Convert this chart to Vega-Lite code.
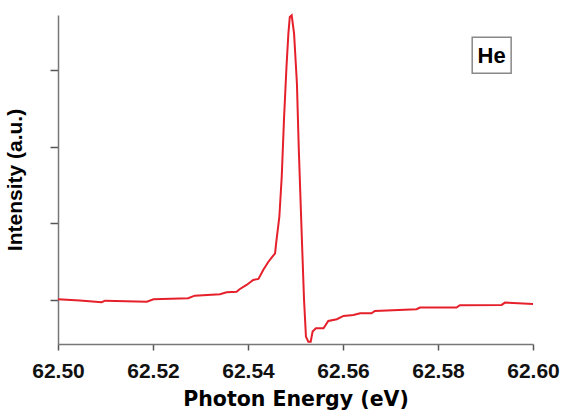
{
  "$schema": "https://vega.github.io/schema/vega-lite/v6.json",
  "autosize": "none",
  "width": 475,
  "height": 329,
  "padding": {"left": 58, "top": 15, "right": 38, "bottom": 70},
  "background": "white",
  "config": {"view": {"stroke": null}, "font": "Liberation Sans"},
  "datasets": {
    "spec": [
      {"E": 62.5000, "I": 0.009},
      {"E": 62.5046, "I": -0.007},
      {"E": 62.5092, "I": -0.030},
      {"E": 62.5099, "I": -0.009},
      {"E": 62.5187, "I": -0.022},
      {"E": 62.5201, "I": 0.009},
      {"E": 62.5274, "I": 0.022},
      {"E": 62.5288, "I": 0.056},
      {"E": 62.5341, "I": 0.074},
      {"E": 62.5355, "I": 0.100},
      {"E": 62.5376, "I": 0.108},
      {"E": 62.5383, "I": 0.143},
      {"E": 62.5397, "I": 0.196},
      {"E": 62.5411, "I": 0.261},
      {"E": 62.5422, "I": 0.274},
      {"E": 62.5432, "I": 0.391},
      {"E": 62.5443, "I": 0.499},
      {"E": 62.5451, "I": 0.561},
      {"E": 62.5457, "I": 0.609},
      {"E": 62.5460, "I": 0.782},
      {"E": 62.5466, "I": 1.086},
      {"E": 62.5471, "I": 1.608},
      {"E": 62.5476, "I": 2.390},
      {"E": 62.5481, "I": 3.042},
      {"E": 62.5485, "I": 3.477},
      {"E": 62.5488, "I": 3.694},
      {"E": 62.5492, "I": 3.716},
      {"E": 62.5497, "I": 3.477},
      {"E": 62.5503, "I": 2.825},
      {"E": 62.5507, "I": 1.956},
      {"E": 62.5513, "I": 0.870},
      {"E": 62.5518, "I": 0.000},
      {"E": 62.5522, "I": -0.478},
      {"E": 62.5527, "I": -0.544},
      {"E": 62.5532, "I": -0.544},
      {"E": 62.5536, "I": -0.413},
      {"E": 62.5543, "I": -0.369},
      {"E": 62.5559, "I": -0.369},
      {"E": 62.5569, "I": -0.274},
      {"E": 62.5587, "I": -0.252},
      {"E": 62.5601, "I": -0.209},
      {"E": 62.5622, "I": -0.196},
      {"E": 62.5636, "I": -0.173},
      {"E": 62.5660, "I": -0.173},
      {"E": 62.5667, "I": -0.143},
      {"E": 62.5755, "I": -0.121},
      {"E": 62.5762, "I": -0.100},
      {"E": 62.5839, "I": -0.100},
      {"E": 62.5846, "I": -0.069},
      {"E": 62.5934, "I": -0.065},
      {"E": 62.5941, "I": -0.035},
      {"E": 62.6000, "I": -0.052}
    ],
    "box": [
      {"x1": 62.5872, "x2": 62.5954, "y1": 2.96, "y2": 3.43, "xc": 62.5913, "yc": 3.185, "label": "He"}
    ]
  },
  "layer": [
    {
      "data": {"name": "spec"},
      "mark": {"type": "line", "color": "#e5202b", "strokeWidth": 2, "interpolate": "linear"},
      "encoding": {
        "x": {
          "field": "E", "type": "quantitative",
          "scale": {"domain": [62.5, 62.6], "nice": false, "zero": false},
          "axis": {
            "title": "Photon Energy (eV)",
            "values": [62.5, 62.52, 62.54, 62.56, 62.58, 62.6],
            "format": ".2f",
            "grid": false,
            "domainColor": "#777", "domainWidth": 1.5,
            "tickColor": "#555", "tickSize": 6, "tickWidth": 1.5,
            "labelFont": "Liberation Sans", "labelFontSize": 21, "labelFontWeight": "bold", "labelColor": "#111",
            "labelPadding": 10, "labelFlush": false,
            "titleFont": "DejaVu Sans", "titleFontSize": 20.5, "titleFontWeight": "bold", "titleColor": "#000",
            "titlePadding": 8
          }
        },
        "y": {
          "field": "I", "type": "quantitative",
          "scale": {"domain": [-0.575, 3.72], "nice": false, "zero": false},
          "axis": {
            "title": "Intensity (a.u.)",
            "values": [0, 1, 2, 3],
            "labels": false,
            "grid": false,
            "domainColor": "#777", "domainWidth": 1.5,
            "tickColor": "#555", "tickSize": 8, "tickWidth": 1.5,
            "titleFont": "Liberation Sans", "titleFontSize": 21, "titleFontWeight": "bold", "titleColor": "#000",
            "titleX": -33
          }
        }
      }
    },
    {
      "data": {"name": "box"},
      "mark": {"type": "rect", "fill": "white", "stroke": "#888", "strokeWidth": 1.5},
      "encoding": {
        "x": {"field": "x1", "type": "quantitative"},
        "x2": {"field": "x2"},
        "y": {"field": "y1", "type": "quantitative"},
        "y2": {"field": "y2"}
      }
    },
    {
      "data": {"name": "box"},
      "mark": {"type": "text", "font": "Liberation Sans", "fontSize": 22, "fontWeight": "bold", "color": "#000", "align": "center", "baseline": "middle"},
      "encoding": {
        "x": {"field": "xc", "type": "quantitative"},
        "y": {"field": "yc", "type": "quantitative"},
        "text": {"field": "label"}
      }
    }
  ]
}
